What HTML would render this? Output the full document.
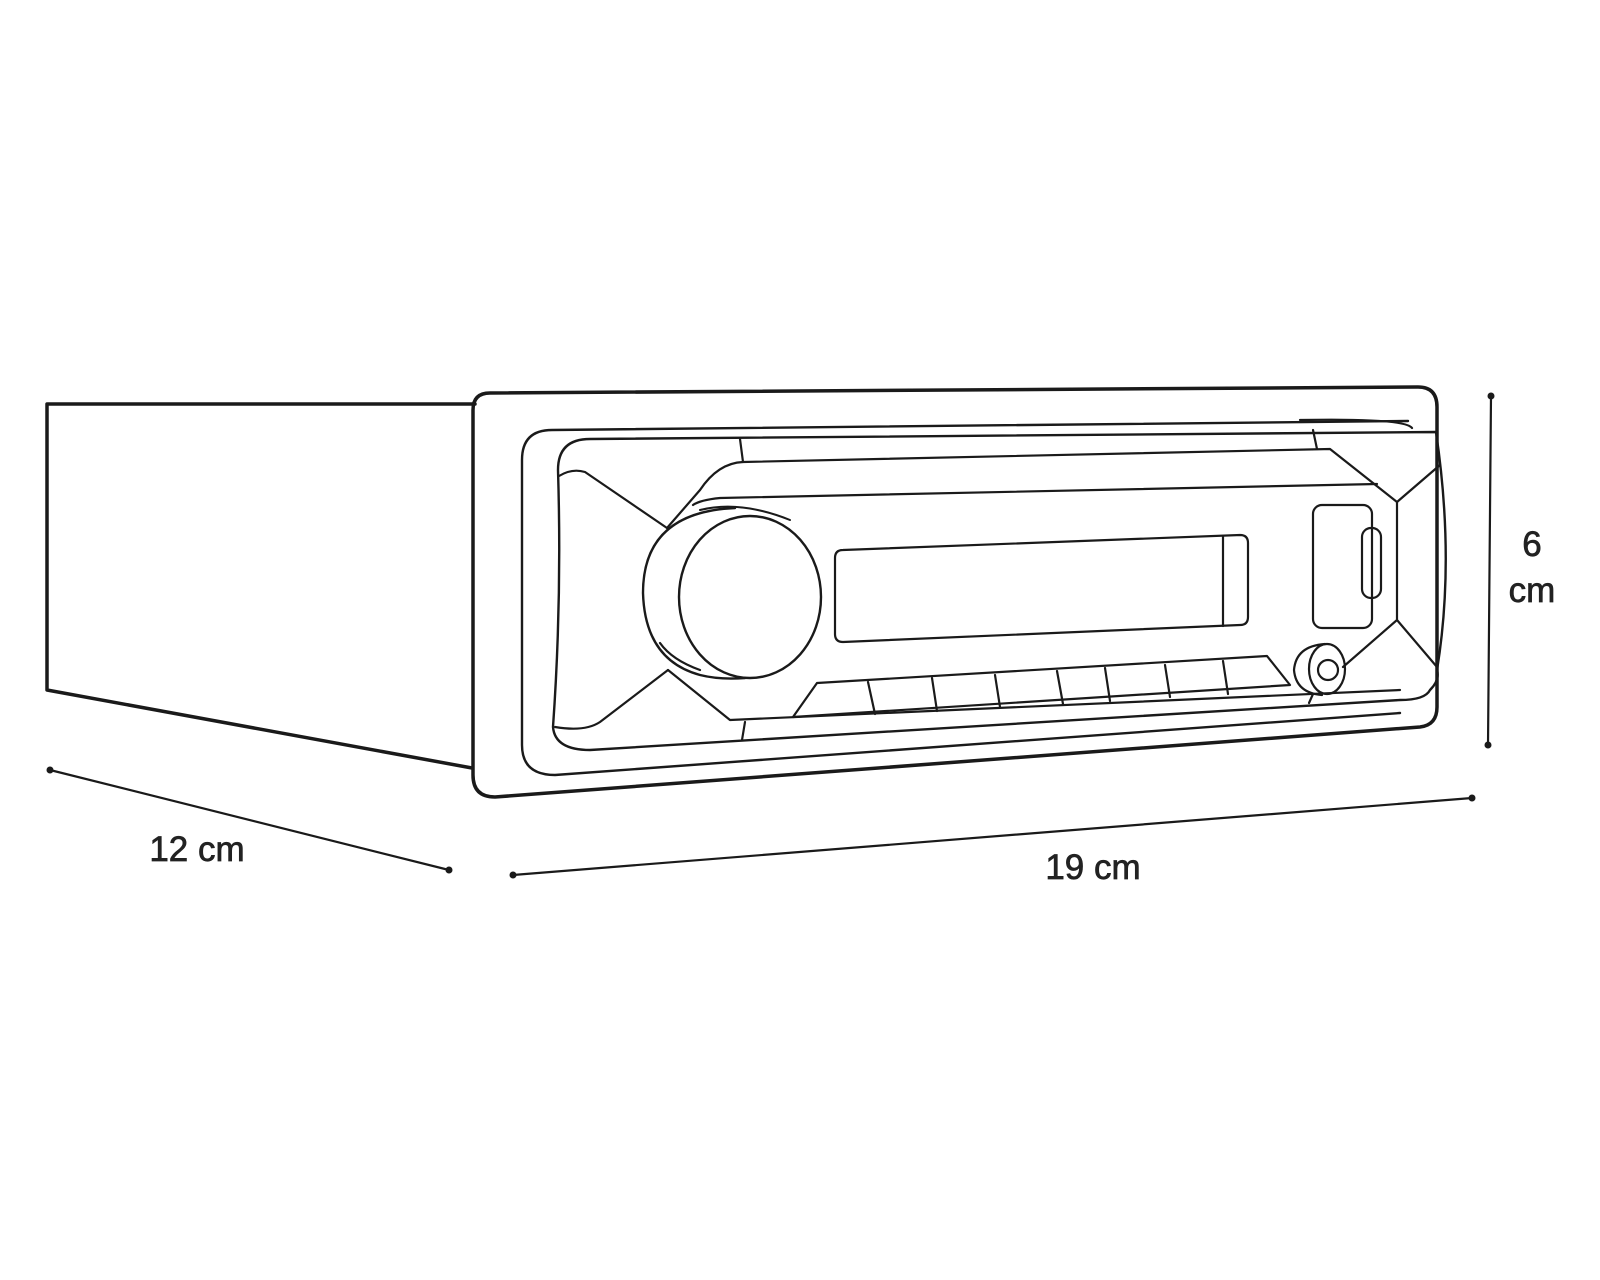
<!DOCTYPE html>
<html><head><meta charset="utf-8"><style>
html,body{margin:0;padding:0;background:#fff;}
svg{display:block;}
text{font-family:"Liberation Sans",sans-serif;fill:#222;stroke:#222;stroke-width:0.7;}
</style></head><body>
<svg width="1600" height="1280" viewBox="0 0 1600 1280" xmlns="http://www.w3.org/2000/svg">
<g fill="none" stroke="#1a1a1a" stroke-linejoin="round" stroke-linecap="round">
<path d="M475,404 L47,404 L47,690 L472,768" stroke-width="3.5"/>
<path d="M490,393 L1418,387 Q1437,387 1437,407 L1437,707 Q1437,725 1420,727 L495,797 Q473,797 473,775 L473,410 Q473,393 490,393 Z" stroke-width="3.5"/>
<path d="M1408,421 L552,430 Q522,430 522,460 L522,745 Q522,775 555,775 L1400,713" stroke-width="2.4"/>
<path d="M1436,432 L590,439 Q558,439 558,470 Q562,600 553,727 Q555,750 590,750 L1400,700 Q1425,700 1430,690 Q1440,680 1437,670 Q1455,560 1436,432 Z" stroke-width="2.4"/>
<path d="M1300,420 Q1405,418 1412,428" stroke-width="2.2"/>
<path d="M559,476 Q572,468 585,472 L667,528" stroke-width="2.2"/>
<path d="M555,727 Q585,732 600,722 L668,670" stroke-width="2.2"/>
<path d="M740,439 L743,462 L1330,449 L1397,502 L1440,465" stroke-width="2.2"/>
<path d="M1313,430 L1317,449" stroke-width="2.2"/>
<path d="M743,462 Q718,463 700,490 L667,528" stroke-width="2.2"/>
<path d="M693,505 Q700,500 720,498 L1377,484" stroke-width="2.2"/>
<path d="M1397,502 L1397,620 L1437,667 M1397,620 L1343,667" stroke-width="2.2"/>
<path d="M843,550 L1240,535 Q1248,535 1248,543 L1248,617 Q1248,625 1240,625 L843,642 Q835,642 835,634 L835,558 Q835,550 843,550 Z" stroke-width="2.2"/>
<path d="M1223,536 L1223,626" stroke-width="2.2"/>
<ellipse cx="750" cy="597" rx="71" ry="81" stroke-width="2.4"/>
<path d="M735,508 Q643,512 643,593 Q645,660 700,675 Q720,680 745,678" stroke-width="2.4"/>
<path d="M700,510 Q740,500 790,520" stroke-width="2"/>
<path d="M660,643 Q672,660 700,670 M668,670 L730,720 L1400,690" stroke-width="2.2"/>
<path d="M745,722 L742,740" stroke-width="2.2"/>
<path d="M793,717 L817,683 L1267,656 L1290,685 L793,717" stroke-width="2.2"/>
<path d="M868,682 L875,714 M932,678 L937,711 M995,675 L1000,707 M1057,671 L1063,704 M1105,668 L1110,701 M1165,665 L1170,697 M1223,661 L1228,694" stroke-width="2.2"/>
<rect x="1313" y="505" width="59" height="123" rx="9" stroke-width="2.2"/>
<rect x="1362" y="528" width="19" height="70" rx="9" stroke-width="2.2"/>
<path d="M1325,644 Q1296,646 1294,670 Q1296,693 1322,695" stroke-width="2.2"/>
<ellipse cx="1327" cy="669" rx="18" ry="25" stroke-width="2.2"/>
<circle cx="1328" cy="670" r="10" stroke-width="2.2"/>
<path d="M1313,694 L1309,703" stroke-width="2.2"/>
<g stroke-width="2.2">
<line x1="50" y1="770" x2="449" y2="870"/>
<line x1="513" y1="875" x2="1472" y2="798"/>
<line x1="1491" y1="396" x2="1488" y2="745"/>
</g>
</g>
<g fill="#1a1a1a">
<circle cx="50" cy="770" r="3.5"/><circle cx="449" cy="870" r="3.5"/>
<circle cx="513" cy="875" r="3.5"/><circle cx="1472" cy="798" r="3.5"/>
<circle cx="1491" cy="396" r="3.5"/><circle cx="1488" cy="745" r="3.5"/>
</g>
<text x="197" y="861" font-size="35" text-anchor="middle">12 cm</text>
<text x="1093" y="879" font-size="35" text-anchor="middle">19 cm</text>
<text x="1532" y="556" font-size="35" text-anchor="middle">6</text>
<text x="1532" y="602" font-size="35" text-anchor="middle">cm</text>
</svg>
</body></html>
